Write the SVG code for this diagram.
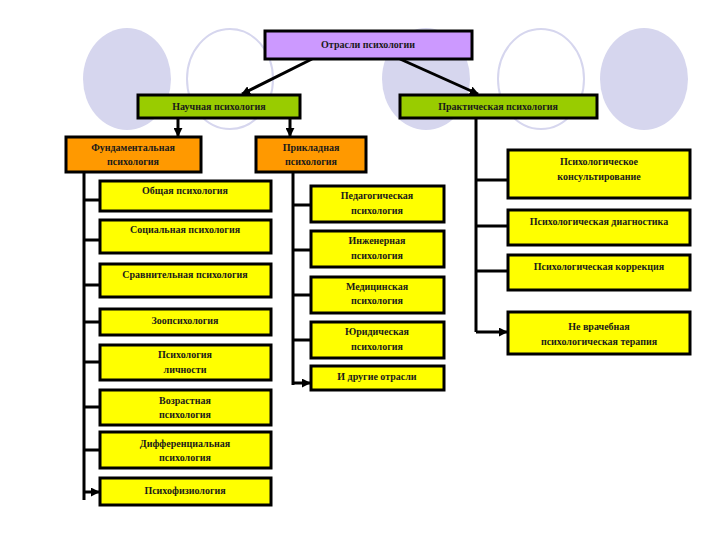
<svg xmlns="http://www.w3.org/2000/svg" width="720" height="540" viewBox="0 0 720 540">
<defs>
<marker id="a" viewBox="0 0 10 10" refX="9" refY="5" markerWidth="3" markerHeight="3" orient="auto"><path d="M0,0L10,5L0,10z" fill="#000"/></marker>
<style>
.b{stroke:#000;stroke-width:3}
.y{fill:#ffff00}.g{fill:#99cc00}.o{fill:#ff9900}.p{fill:#cc99ff}
text{font-family:"Liberation Serif",serif;font-weight:bold;font-size:10px;fill:#1a1a1a;text-anchor:middle}
.c{stroke:#000;stroke-width:3;fill:none}
.ca{stroke:#000;stroke-width:3;fill:none;marker-end:url(#a)}
</style>
</defs>
<rect width="720" height="540" fill="#fff"/>
<g id="bg">
<ellipse cx="127" cy="79" rx="44" ry="51" fill="#d6d6ee"/>
<ellipse cx="230" cy="79" rx="43" ry="50" fill="none" stroke="#d6d6ee" stroke-width="2"/>
<ellipse cx="426" cy="79" rx="44" ry="51" fill="#d6d6ee"/>
<ellipse cx="541" cy="79" rx="43" ry="50" fill="none" stroke="#d6d6ee" stroke-width="2"/>
<ellipse cx="644" cy="79" rx="44" ry="51" fill="#d6d6ee"/>
</g>
<g id="connectors">
<path class="ca" d="M312,59L242,94"/>
<path class="ca" d="M400,59L478,94"/>
<path class="ca" d="M178,118V136"/>
<path class="ca" d="M290,118V136"/>
<path class="c" d="M84,172V500"/>
<path class="ca" d="M84,200H99M84,240H99M84,285H99M84,322H99M84,362H99M84,407H99M84,450H99M84,492H99"/>
<path class="c" d="M293,172V385"/>
<path class="ca" d="M293,205H310M293,250H310M293,295H310M293,340H310M293,383H310"/>
<path class="c" d="M476,118V332"/>
<path class="ca" d="M476,180H507M476,226H507M476,271H507M476,332H507"/>
</g>
<g id="root"><rect class="b p" x="265" y="31" width="207" height="28"/><text x="368" y="48">Отрасли психологии</text></g>
<g id="sci"><rect class="b g" x="138" y="95" width="162" height="23"/><text x="219" y="110">Научная психология</text></g>
<g id="prac"><rect class="b g" x="400" y="95" width="197" height="23"/><text x="498" y="110">Практическая психология</text></g>
<g id="fund"><rect class="b o" x="66" y="137" width="135" height="35"/><text x="133" y="151">Фундаментальная</text><text x="133" y="165">психология</text></g>
<g id="appl"><rect class="b o" x="256" y="137" width="110" height="35"/><text x="311" y="151">Прикладная</text><text x="311" y="165">психология</text></g>
<g id="l1"><rect class="b y" x="100" y="181" width="171" height="30"/><text x="185" y="194">Общая психология</text></g>
<g id="l2"><rect class="b y" x="100" y="220" width="171" height="33"/><text x="185" y="233">Социальная психология</text></g>
<g id="l3"><rect class="b y" x="100" y="264" width="171" height="33"/><text x="185" y="278">Сравнительная психология</text></g>
<g id="l4"><rect class="b y" x="100" y="309" width="171" height="26"/><text x="185" y="324">Зоопсихология</text></g>
<g id="l5"><rect class="b y" x="100" y="345" width="171" height="35"/><text x="185" y="358">Психология</text><text x="185" y="373">личности</text></g>
<g id="l6"><rect class="b y" x="100" y="390" width="171" height="35"/><text x="185" y="404">Возрастная</text><text x="185" y="418">психология</text></g>
<g id="l7"><rect class="b y" x="100" y="432" width="171" height="36"/><text x="185" y="447">Дифференциальная</text><text x="185" y="461">психология</text></g>
<g id="l8"><rect class="b y" x="100" y="478" width="171" height="27"/><text x="185" y="494">Психофизиология</text></g>
<g id="m1"><rect class="b y" x="311" y="186" width="133" height="36"/><text x="377" y="199">Педагогическая</text><text x="377" y="214">психология</text></g>
<g id="m2"><rect class="b y" x="311" y="231" width="133" height="36"/><text x="377" y="244">Инженерная</text><text x="377" y="259">психология</text></g>
<g id="m3"><rect class="b y" x="311" y="277" width="133" height="36"/><text x="377" y="290">Медицинская</text><text x="377" y="304">психология</text></g>
<g id="m4"><rect class="b y" x="311" y="322" width="133" height="36"/><text x="377" y="335">Юридическая</text><text x="377" y="350">психология</text></g>
<g id="m5"><rect class="b y" x="311" y="366" width="133" height="24"/><text x="377" y="380">И другие отрасли</text></g>
<g id="r1"><rect class="b y" x="508" y="150" width="182" height="48"/><text x="599" y="165">Психологическое</text><text x="599" y="180">консультирование</text></g>
<g id="r2"><rect class="b y" x="508" y="210" width="182" height="35"/><text x="599" y="225">Психологическая диагностика</text></g>
<g id="r3"><rect class="b y" x="508" y="255" width="182" height="35"/><text x="599" y="270">Психологическая коррекция</text></g>
<g id="r4"><rect class="b y" x="508" y="312" width="182" height="42"/><text x="599" y="330">Не врачебная</text><text x="599" y="345">психологическая терапия</text></g>
</svg>
